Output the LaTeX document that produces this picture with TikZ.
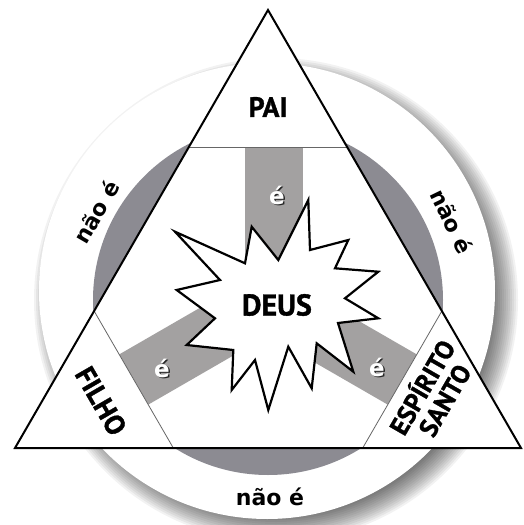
\documentclass[tikz,border=0pt]{standalone}
\usepackage{fontspec}
\newfontfamily\labfont{PT Sans}[BoldFeatures={FakeBold=1.2}]
\newfontfamily\naofont{DejaVu Sans}
\definecolor{diskgray}{RGB}{140,139,146}
\definecolor{bargray}{RGB}{163,161,161}
\begin{document}
\begin{tikzpicture}[x=1pt,y=-1pt,
  lab/.style={font=\labfont\bfseries\fontsize{28}{25}\selectfont, inner sep=0pt, align=center},
  nao/.style={font=\naofont\bfseries\fontsize{22}{24}\selectfont, inner sep=0pt},
  ebar/.style={font=\naofont\bfseries\fontsize{23}{24}\selectfont, inner sep=0pt, text=white},
  eshadow/.style={ebar, text=black!85},
  cutline/.style={draw=black!60, line width=0.8pt},
  tri/.style={draw=black, line width=2pt, line join=miter},
  burst/.style={draw=black, line width=2.2pt, fill=white, line join=miter}
]
\useasboundingbox (0,0) rectangle (523,525);
\fill[white] (0,0) rectangle (523,525);
% soft shadow of the outer disk
\foreach \i in {0,...,13}
  \fill[black, opacity=0.05] (276,300) circle[radius=242-2*\i];
% outer white ring
\fill[white] (267,291) circle[radius=228];
% gray disk
\fill[diskgray] (268,300) circle[radius=175];
% main triangle
\coordinate (A) at (268,10);
\coordinate (B) at (15,448);
\coordinate (C) at (521,448);
\coordinate (G) at (268,302);
\fill[white] (A)--(B)--(C)--cycle;
% bars
\fill[bargray] (245,140) rectangle (303,305);
\begin{scope}[shift={(G)}, rotate=210]
  \fill[bargray] (0,-29) rectangle (230,29);
\end{scope}
\begin{scope}[shift={(G)}, rotate=-30]
  \fill[bargray] (0,-29) rectangle (230,29);
\end{scope}
% corner triangles
\coordinate (t1) at (188.9,147);
\coordinate (t2) at (347.1,147);
\coordinate (l1) at (94.1,311);
\coordinate (l2) at (173.3,448);
\coordinate (r1) at (441.9,311);
\coordinate (r2) at (362.7,448);
\fill[white] (A)--(t1)--(t2)--cycle;
\fill[white] (B)--(l1)--(l2)--cycle;
\fill[white] (C)--(r1)--(r2)--cycle;
\draw[cutline] (t1)--(t2);
\draw[cutline] (l1)--(l2);
\draw[cutline] (r1)--(r2);
\draw[tri] (A)--(B)--(C)--cycle;
% star burst
\draw[burst] (308.3,200) -- (310,250) -- (348.3,240) -- (335,268.3) -- (378.3,271.7)
  -- (345,298.3) -- (378.3,318.3) -- (338,323) -- (353.3,371.7) -- (316.7,343.3)
  -- (311.7,388.3) -- (288.3,346.7) -- (268.3,410) -- (255,360) -- (231.7,390)
  -- (233.3,350) -- (186.7,345) -- (215,318.3) -- (176.7,290) -- (220,280)
  -- (175,231.7) -- (245,263.3) -- (251.7,226.7) -- (278.3,260) -- cycle;
% labels
\node[lab] (pai) at (268,107) {PAI};
\node[lab, font=\labfont\bfseries\fontsize{30}{30}\selectfont] (deus) at (277,305) {DEUS};
\node[lab, rotate=-60] (filho) at (101,401) {FILHO};
\node[lab, rotate=60, font=\labfont\bfseries\fontsize{26}{26}\selectfont] (esp) at (432,393) {ESPÍRITO\\SANTO};
\node[nao] (nao1) at (270,497) {não é};
\node[nao, rotate=60] (nao2) at (96,212) {não é};
\node[nao, rotate=-64] (nao3) at (452,221) {não é};
% é on bars
\node[eshadow] (e1s) at (278.5,196.5) {é};
\node[ebar] (e1) at (277,195) {é};
\node[eshadow] (e2s) at (163.5,369.5) {é};
\node[ebar] (e2) at (162,368) {é};
\node[eshadow] (e3s) at (378.5,368.5) {é};
\node[ebar] (e3) at (377,367) {é};
\end{tikzpicture}
\end{document}
